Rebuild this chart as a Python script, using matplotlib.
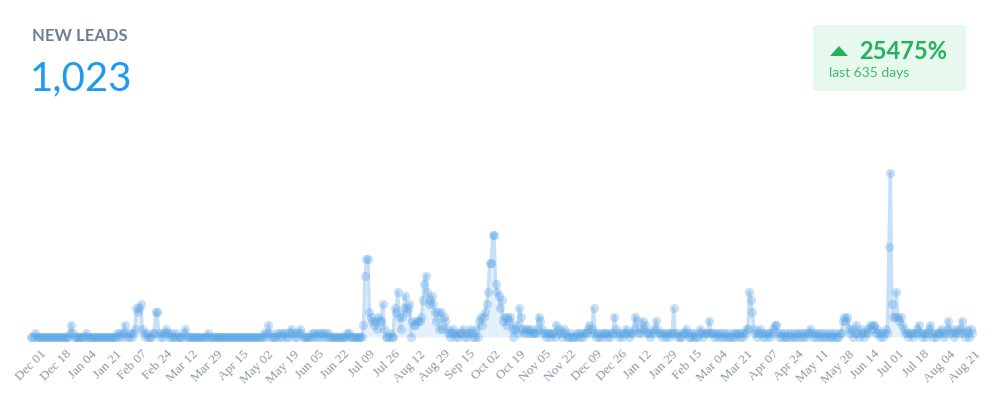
import numpy as np
import pandas as pd
import matplotlib
matplotlib.use("Agg")
import matplotlib.pyplot as plt
from matplotlib.patches import FancyBboxPatch, Polygon
from matplotlib.transforms import ScaledTranslation


# ======================
# Data: daily new leads, Dec 01 2019 -> Aug 26 2021 (635 days)
# ======================

START_DATE = "2019-12-01"

leads_2019_dec = [0,0,0,1,0,0,0,0,0,0, 0,0,0,0,0,0,0,0,0,0, 0,0,0,0,0,0,1,3,1,0, 0]
leads_2020_jan = [0,0,0,0,0,0,1,0,0,0, 0,0,0,0,0,0,0,0,0,0, 0,0,0,0,0,0,0,1,0,1, 0]
leads_2020_feb = [1,3,1,0,0,1,0,1,2,7, 6,7,8,2,1,0,1,0,0,0, 1,1,6,6,1,0,1,0,1]
leads_2020_mar = [2,1,0,1,0,0,0,1,0,0, 0,0,1,2,0,0,0,0,0,0, 0,0,0,0,0,0,0,0,1,0, 0]
leads_2020_apr = [0,0,0,0,0,0,0,0,0,0, 0,0,0,0,0,0,0,0,0,0, 0,0,0,0,0,0,0,0,0,0]
leads_2020_may = [0,0,0,0,0,1,0,1,3,1, 0,0,0,0,1,0,1,0,1,1, 0,0,1,2,1,0,1,0,1,2, 1]
leads_2020_jun = [0,0,0,0,0,0,1,0,1,0, 1,0,1,1,0,1,0,1,0,0, 0,0,0,0,0,0,0,0,0,0]
leads_2020_jul = [1,1,0,0,0,0,0,0,0,0, 0,3,15,19,19,6,5,4,3,4, 2,5,4,4,8,2,0,0,0,1, 0]
leads_2020_aug = [0,7,6,11,5,2,5,7,10,6, 7,8,0,4,3,3,4,4,4,5, 9,13,15,11,8,9,10,8,6,4, 6]
leads_2020_sep = [2,6,2,5,4,2,1,0,1,2, 1,0,1,0,1,1,2,0,1,0, 1,2,1,0,0,2,0,4,5,3]
leads_2020_oct = [5,6,8,11,18,18,25,25,13,11, 10,7,9,4,5,3,5,4,5,2, 0,2,3,1,7,5,2,1,2,1, 2]
leads_2020_nov = [1,2,1,1,1,2,5,4,2,1, 1,0,1,1,0,1,1,0,3,1, 2,1,0,2,1,0,0,1,0,0]
leads_2020_dec = [0,1,0,1,0,1,0,1,1,2, 3,1,2,7,1,0,1,0,1,0, 1,1,0,1,0,1,1,5,2,1, 0]
leads_2021_jan = [1,0,1,1,2,1,0,1,1,2, 5,4,1,2,1,4,2,3,1,1, 0,1,2,1,4,2,1,1,0,1, 1]
leads_2021_feb = [0,1,0,1,1,7,1,0,1,0, 0,1,1,2,1,0,0,1,0,1, 0,0,1,2,1,0,1,1]
leads_2021_mar = [1,4,1,1,0,1,0,1,1,0, 0,1,0,1,0,0,1,0,1,0, 1,1,0,1,0,1,2,2,11,9, 6]
leads_2021_apr = [2,1,0,1,2,1,0,1,0,1, 1,0,1,2,3,3,1,0,1,0, 1,0,0,1,0,1,0,0,1,0]
leads_2021_may = [1,0,1,0,1,0,1,1,2,1, 0,1,0,1,0,1,0,0,1,0, 1,0,0,1,0,1,0,0,1,1, 4]
leads_2021_jun = [5,4,5,2,1,2,0,1,3,1, 0,2,1,0,1,2,1,3,2,3, 3,1,2,1,0,1,0,1,2,1]
leads_2021_jul = [22,40,8,5,5,11,5,4,5,3, 2,1,1,0,1,1,0,1,1,2, 3,1,0,1,1,0,1,2,3,1, 0]
leads_2021_aug = [1,0,1,1,2,1,0,1,2,4, 1,2,1,0,1,2,1,2,4,1, 0,2,1,0,2,1]

tick_labels = ["Dec 01", "Dec 18", "Jan 04", "Jan 21", "Feb 07", "Feb 24", "Mar 12",
               "Mar 29", "Apr 15", "May 02", "May 19", "Jun 05", "Jun 22", "Jul 09",
               "Jul 26", "Aug 12", "Aug 29", "Sep 15", "Oct 02", "Oct 19", "Nov 05",
               "Nov 22", "Dec 09", "Dec 26", "Jan 12", "Jan 29", "Feb 15", "Mar 04",
               "Mar 21", "Apr 07", "Apr 24", "May 11", "May 28", "Jun 14", "Jul 01",
               "Jul 18", "Aug 04", "Aug 21"]

header_title = "NEW LEADS"
header_total = "1,023"
badge_change = "25475%"
badge_period = "last 635 days"

leads = np.array(
    leads_2019_dec + leads_2020_jan + leads_2020_feb + leads_2020_mar
    + leads_2020_apr + leads_2020_may + leads_2020_jun + leads_2020_jul
    + leads_2020_aug + leads_2020_sep + leads_2020_oct + leads_2020_nov
    + leads_2020_dec + leads_2021_jan + leads_2021_feb + leads_2021_mar
    + leads_2021_apr + leads_2021_may + leads_2021_jun + leads_2021_jul
    + leads_2021_aug
)
dates = pd.date_range(START_DATE, periods=len(leads), freq="D")
tick_dates = pd.date_range(START_DATE, periods=len(tick_labels), freq="17D")


# ======================
# Figure
# ======================

fig = plt.figure(figsize=(10, 4), dpi=100)
fig.patch.set_facecolor("white")

ax = fig.add_axes([0.031, 0.1575, 0.941, 0.451])
ax.set_xlim(dates[0], dates[-1])
ax.set_ylim(0, 44)

ax.fill_between(dates, leads, 0, color="#dcebfc", alpha=0.7, lw=0, zorder=1)
ax.plot(dates, leads, color="#c8dff8", lw=2.4, zorder=2, solid_joinstyle="round")
ax.scatter(dates, leads, s=44, color="#58a4e6", alpha=0.33,
           linewidths=0, zorder=3, clip_on=False)

for s in ax.spines.values():
    s.set_visible(False)
ax.set_yticks([])
ax.set_xticks(tick_dates)
ax.set_xticklabels(tick_labels, rotation=45, ha="right", va="center",
                   rotation_mode="anchor", family="Liberation Serif",
                   fontsize=9.5, color="#8d98a7")
ax.tick_params(axis="x", length=0, pad=11)
shift = ScaledTranslation(14 / 100, 0, fig.dpi_scale_trans)
for lbl in ax.get_xticklabels():
    lbl.set_transform(lbl.get_transform() + shift)


# ======================
# Header
# ======================

fig.text(0.032, 1 - 28 / 400, header_title, family="Lato", fontweight="bold",
         fontsize=12, color="#6f7e90", va="top", ha="left")
fig.text(0.030, 1 - 90 / 400, header_total, family="Lato", fontweight="normal",
         fontsize=29, color="#1e9bf0", va="baseline", ha="left")

badge = FancyBboxPatch((813 / 1000, 1 - 91 / 400), 153 / 1000, 66 / 400,
                       boxstyle="round,pad=0,rounding_size=0.006",
                       transform=fig.transFigure, facecolor="#e7f8ee",
                       edgecolor="none")
fig.patches.append(badge)

tri = Polygon([(830 / 1000, 1 - 56 / 400), (848 / 1000, 1 - 56 / 400),
               (839 / 1000, 1 - 46 / 400)], closed=True,
              transform=fig.transFigure, facecolor="#24b25c", edgecolor="none")
fig.patches.append(tri)

fig.text(0.859, 1 - 59 / 400, badge_change, family="Lato", fontweight="bold",
         fontsize=17, color="#24b25c", va="baseline", ha="left")
fig.text(0.829, 1 - 77 / 400, badge_period, family="Lato",
         fontsize=10, color="#3dbd6c", va="baseline", ha="left")

plt.savefig("out.png", dpi=100, facecolor="white")
